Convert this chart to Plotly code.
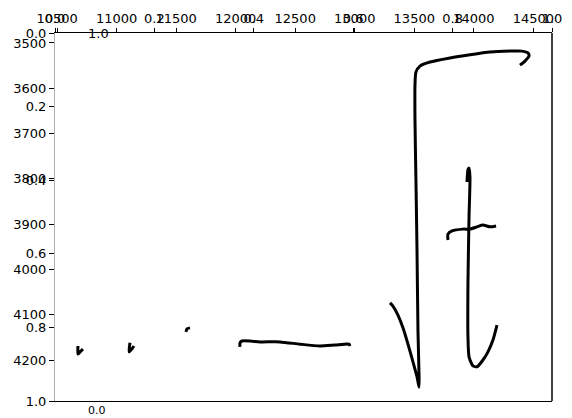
import plotly.graph_objects as go

# ---- data (stroke coordinates in data units) ----
s1_x = [10675, 10675, 10700, 10717, 10692]
s1_y = [4169, 4187, 4180, 4176, 4182]

s2_x = [11112, 11104, 11129, 11145]
s2_y = [4162, 4182, 4175, 4169]

s3_x = [11616, 11591, 11582]
s3_y = [4129, 4131, 4138]

s4_x = [12036, 12036, 12053, 12120, 12204, 12372, 12540, 12708, 12834, 12952, 12960]
s4_y = [4171, 4162, 4158, 4158, 4160, 4160, 4165, 4169, 4167, 4165, 4169]

s5_x = [13296, 13321, 13363, 13405, 13447, 13489, 13523, 13540, 13540, 13531, 13523,
        13514, 13506, 13506, 13514, 13548, 13632, 13800, 13968, 14136, 14304, 14405,
        14455, 14464, 14430, 14388]
s5_y = [4074, 4081, 4101, 4129, 4165, 4204, 4237, 4260, 4233, 4134, 3957,
        3802, 3670, 3593, 3564, 3551, 3542, 3533, 3526, 3520, 3518, 3518,
        3522, 3529, 3540, 3549]

s6_x = [13943, 13951, 13960, 13968, 13960, 13951, 13951, 13960, 13993, 14027, 14077,
        14119, 14161, 14195]
s6_y = [3807, 3780, 3776, 3798, 3884, 4030, 4149, 4193, 4213, 4215, 4200,
        4182, 4156, 4123]

s7_x = [13783, 13783, 13817, 13909, 13968, 14027, 14077, 14136, 14187]
s7_y = [3935, 3922, 3915, 3911, 3911, 3906, 3902, 3906, 3904]

strokes = [(s1_x, s1_y), (s2_x, s2_y), (s3_x, s3_y), (s4_x, s4_y),
           (s5_x, s5_y), (s6_x, s6_y), (s7_x, s7_y)]

x_ticks = [10500, 11000, 11500, 12000, 12500, 13000, 13500, 14000, 14500]
y_ticks = [3500, 3600, 3700, 3800, 3900, 4000, 4100, 4200]
unit_ticks = [0.0, 0.2, 0.4, 0.6, 0.8, 1.0]
unit_labels = ["0.0", "0.2", "0.4", "0.6", "0.8", "1.0"]

fig = go.Figure()
for sx, sy in strokes:
    fig.add_trace(go.Scatter(x=sx, y=sy, mode="lines",
                             line=dict(color="black", width=3, shape="spline", smoothing=0.6),
                             showlegend=False, hoverinfo="skip"))
# invisible trace to anchor the unit axes
fig.add_trace(go.Scatter(x=[0, 1], y=[0, 1], xaxis="x2", yaxis="y2", mode="markers",
                         marker=dict(opacity=0), showlegend=False, hoverinfo="skip"))

font = dict(family="DejaVu Sans", size=13, color="black")
fig.update_layout(
    width=564, height=410,
    margin=dict(l=47, r=20, t=25, b=17, autoexpand=False),
    paper_bgcolor="white", plot_bgcolor="white",
    font=font,
    xaxis=dict(range=[10482, 14657], side="top", tickvals=x_ticks,
               ticktext=[str(v) for v in x_ticks], automargin=False,
               ticks="outside", ticklen=4, tickcolor="black",
               showline=True, linecolor="black", linewidth=1, mirror=True,
               showgrid=False, zeroline=False, tickfont=font),
    yaxis=dict(range=[4290.5, 3478], tickvals=y_ticks,
               ticktext=[str(v) for v in y_ticks], automargin=False,
               ticks="outside", ticklen=5, tickcolor="black",
               showline=False, showgrid=False, zeroline=False, tickfont=font),
    xaxis2=dict(range=[0, 1], overlaying="x", side="top", tickvals=unit_ticks,
                ticktext=unit_labels, ticks="outside", ticklen=4, tickcolor="black",
                automargin=False,
                showline=False, showgrid=False, zeroline=False, tickfont=font),
    yaxis2=dict(range=[1, 0], overlaying="y", side="left", tickvals=unit_ticks,
                ticktext=unit_labels, ticks="outside", ticklen=5, tickcolor="black",
                automargin=False,
                showline=True, linecolor="#b0b0b0", linewidth=1,
                showgrid=False, zeroline=False, tickfont=font),
    shapes=[dict(type="line", xref="paper", yref="paper", x0=1, x1=1, y0=0, y1=1,
                 line=dict(color="black", width=1.5))],
    annotations=[
        dict(text="1.0", xref="paper", yref="paper", x=(98 - 55) / 497, y=1.0,
             xanchor="center", yanchor="middle", showarrow=False, font=font),
        dict(text="0.0", xref="paper", yref="paper", x=(97 - 55) / 497, y=-0.003,
             xanchor="center", yanchor="top", showarrow=False,
             font=dict(family="DejaVu Sans", size=11, color="black")),
    ],
)
fig.write_html("out.html")
